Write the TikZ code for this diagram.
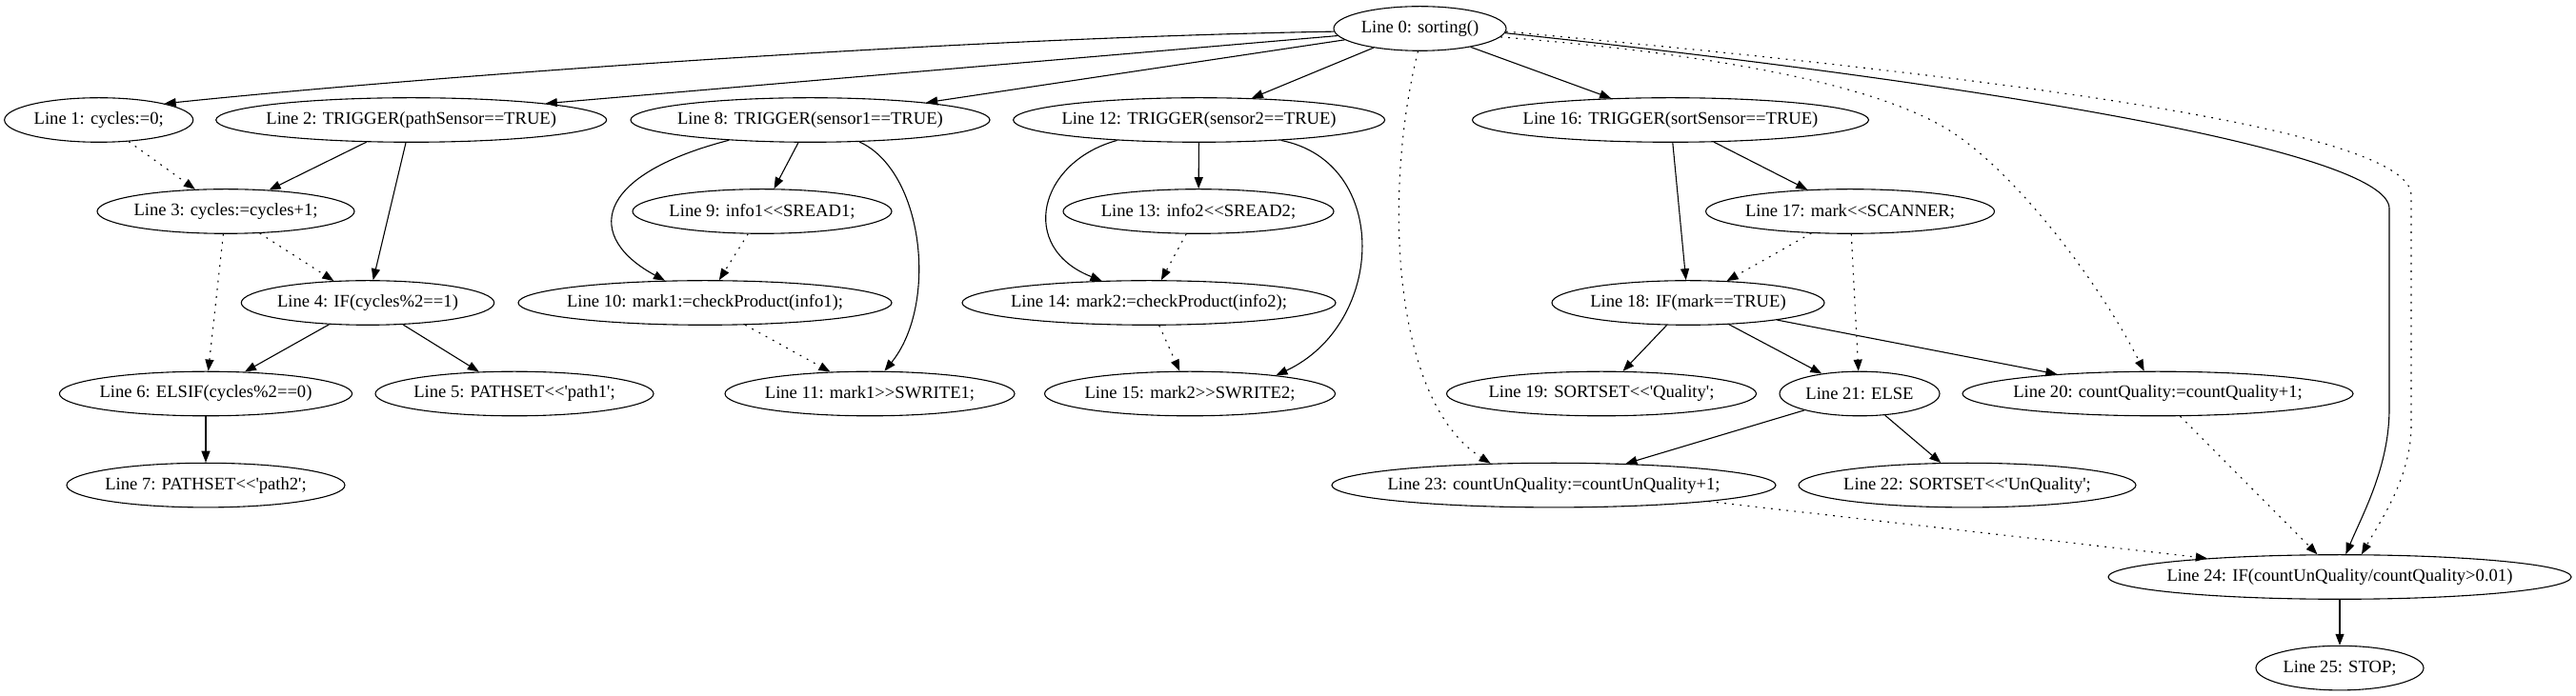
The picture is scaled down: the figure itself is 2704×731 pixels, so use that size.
\documentclass[tikz,border=0pt]{standalone}
\usepackage{fontspec}
\setmainfont{Liberation Serif}[Ligatures=TeXOff]
\usetikzlibrary{shapes.geometric,arrows.meta}
\newcommand{\tqs}{\textquotesingle}
\newcommand{\nlab}[1]{\makebox[0pt]{#1}}
\tikzset{
  el/.style={ellipse, draw, line width=0.55pt, minimum width=#1pt, minimum height=23.3pt, inner sep=0pt, font=\fontsize{9.3pt}{11pt}\selectfont},
  ed/.style={line width=0.55pt, -{Triangle[length=6pt,width=4.5pt]}},
  edt/.style={ed, dash pattern=on 0.9pt off 3.2pt},
}
\begin{document}
\begin{tikzpicture}[x=0.5pt,y=-0.5pt]
\useasboundingbox (0,0) rectangle (2704,731);
% row 0
\node[el=90.5] (n0) at (1490.5,30) {\nlab{Line 0: sorting()}};
% row 1
\node[el=99] (n1) at (103.7,126) {\nlab{Line 1: cycles:=0;}};
\node[el=205] (n2) at (431.7,126) {\nlab{Line 2: TRIGGER(pathSensor==TRUE)}};
\node[el=188.5] (n8) at (850.5,126) {\nlab{Line 8: TRIGGER(sensor1==TRUE)}};
\node[el=195] (n12) at (1258.6,126) {\nlab{Line 12: TRIGGER(sensor2==TRUE)}};
\node[el=208] (n16) at (1753.5,126) {\nlab{Line 16: TRIGGER(sortSensor==TRUE)}};
% row 2
\node[el=135] (n3) at (237,222) {\nlab{Line 3: cycles:=cycles+1;}};
\node[el=136] (n9) at (800,222) {\nlab{Line 9: info1<<SREAD1;}};
\node[el=142] (n13) at (1258,222) {\nlab{Line 13: info2<<SREAD2;}};
\node[el=151.5] (n17) at (1942,222) {\nlab{Line 17: mark<<SCANNER;}};
% row 3
\node[el=132.7] (n4) at (386,318) {\nlab{Line 4: IF(cycles\%2==1)}};
\node[el=196] (n10) at (740,318) {\nlab{Line 10: mark1:=checkProduct(info1);}};
\node[el=196] (n14) at (1206,318) {\nlab{Line 14: mark2:=checkProduct(info2);}};
\node[el=143] (n18) at (1772,318) {\nlab{Line 18: IF(mark==TRUE)}};
% row 4
\node[el=153.6] (n6) at (216,413.5) {\nlab{Line 6: ELSIF(cycles\%2==0)}};
\node[el=146] (n5) at (540,413.5) {\nlab{Line 5: PATHSET<<\tqs path1\tqs;}};
\node[el=152] (n11) at (913,413.5) {\nlab{Line 11: mark1>>SWRITE1;}};
\node[el=152.5] (n15) at (1249,413.5) {\nlab{Line 15: mark2>>SWRITE2;}};
\node[el=162.5] (n19) at (1681,413.5) {\nlab{Line 19: SORTSET<<\tqs Quality\tqs;}};
\node[el=84] (n21) at (1952,413.5) {\nlab{Line 21: ELSE}};
\node[el=205] (n20) at (2265,413.5) {\nlab{Line 20: countQuality:=countQuality+1;}};
% row 5
\node[el=146] (n7) at (216,509.6) {\nlab{Line 7: PATHSET<<\tqs path2\tqs;}};
\node[el=233] (n23) at (1631,509.6) {\nlab{Line 23: countUnQuality:=countUnQuality+1;}};
\node[el=177] (n22) at (2065,509.6) {\nlab{Line 22: SORTSET<<\tqs UnQuality\tqs;}};
% row 6-7
\node[el=243] (n24) at (2456,606) {\nlab{Line 24: IF(countUnQuality/countQuality>0.01)}};
\node[el=88] (n25) at (2456,701.6) {\nlab{Line 25: STOP;}};

% edges from Line 0
\draw[ed] (n0.182) .. controls (1000,40) and (450,80) .. (n1.14);
\draw[ed] (n0.185) -- (n2.7);
\draw[ed] (n0) -- (n8);
\draw[ed] (n0) -- (n12);
\draw[ed] (n0) -- (n16);
\draw[edt] (n0.265) .. controls (1452,200) and (1460,420) .. (n23.161);
\draw[edt] (n0.-6) .. controls (1780,55) and (1960,85) .. (2043,135) .. controls (2110,175) and (2200,290) .. (n20.121);
\draw[ed] (n0.-3) .. controls (2100,90) and (2508,160) .. (2508,219) -- (2508,429) .. controls (2508,490) and (2480,540) .. (n24.75);
\draw[edt] (n0.-2) .. controls (2150,85) and (2531,140) .. (2531,205) -- (2531,447) .. controls (2531,500) and (2500,545) .. (n24.46);
% left group
\draw[edt] (n1) -- (n3);
\draw[ed] (n2) -- (n3);
\draw[ed] (n2) -- (n4);
\draw[edt] (n3) -- (n4);
\draw[edt] (n3) -- (n6);
\draw[ed] (n4) -- (n6);
\draw[ed] (n4) -- (n5);
\draw[ed] (n6) -- (n7);
% sensor1 group
\draw[ed] (n8.-166) .. controls (620,185) and (615,250) .. (n10.151);
\draw[ed] (n8) -- (n9);
\draw[ed] (n8.-24) .. controls (970,180) and (985,320) .. (n11.57);
\draw[edt] (n9) -- (n10);
\draw[edt] (n10) -- (n11);
% sensor2 group
\draw[ed] (n12.-166) .. controls (1090,170) and (1068,260) .. (n14.155);
\draw[ed] (n12) -- (n13);
\draw[ed] (n12.-14) .. controls (1460,170) and (1455,340) .. (n15.12);
\draw[edt] (n13) -- (n14);
\draw[edt] (n14) -- (n15);
% sort group
\draw[ed] (n16) -- (n18);
\draw[ed] (n16) -- (n17);
\draw[edt] (n17) -- (n18);
\draw[edt] (n17) -- (n21);
\draw[ed] (n18) -- (n19);
\draw[ed] (n18) -- (n21);
\draw[ed] (n18) -- (n20);
\draw[ed] (n21) -- (n23);
\draw[ed] (n21) -- (n22);
\draw[edt] (n20) -- (n24);
\draw[edt] (n23.-6) -- (n24.172);
\draw[ed] (n24) -- (n25);
\end{tikzpicture}
\end{document}
